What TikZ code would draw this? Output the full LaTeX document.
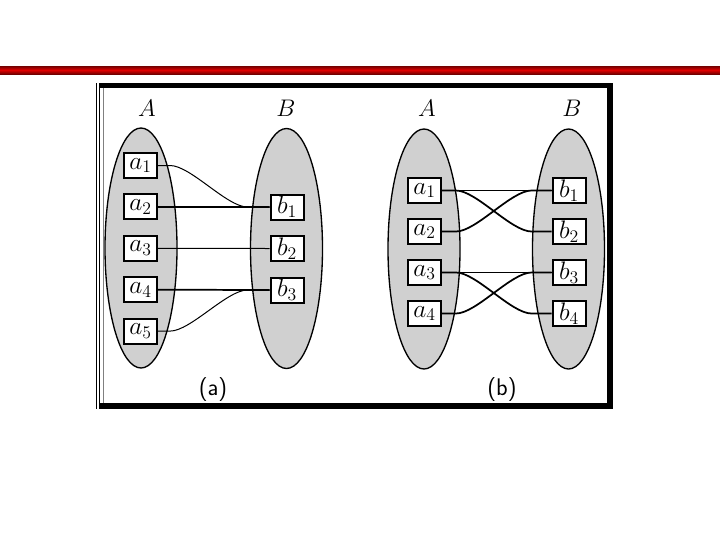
\RequirePackage{fix-cm}
\documentclass[tikz,border=0pt]{standalone}
\usetikzlibrary{shapes.geometric,calc}

\tikzset{every picture/.style={line width=0.75pt}}
\tikzset{
  setell/.style={ellipse, draw, line width=1pt, fill=setgray, minimum width=54pt, minimum height=180pt, inner sep=0pt},
  elem/.style={draw, line width=1.5pt, fill=white, minimum width=24.75pt, minimum height=18.75pt, inner sep=0pt, font=\fontsize{19}{22}\selectfont},
  setname/.style={inner sep=0.75pt, font=\fontsize{18}{21}\selectfont},
  caption/.style={inner sep=0.75pt, font=\fontsize{18}{21}\selectfont\sffamily},
  link/.style={line width=0.75pt},
  boldlink/.style={line width=1.3pt},
  swing/.style={out=0, in=180, looseness=0.6}
}
\definecolor{setgray}{RGB}{208,208,208}

\begin{document}
\begin{tikzpicture}[x=0.75pt,y=0.75pt,yscale=-1,xscale=1]
\useasboundingbox (0,0) rectangle (720,540);

%Shape: Bar
\shade[top color=red!45!black, bottom color=red!45!black, middle color=red!88!black] (0,66) rectangle (720,74);

%Shape: Frame
\draw[line width=4.1pt] (100,85.5) -- (610,85.5) -- (610,406) -- (100,406);
\draw[line width=1pt] (96.5,83) -- (96.5,409);
\draw[line width=1pt] (99.5,83) -- (99.5,409);
\draw[line width=0.4pt, gray] (103,88) -- (103,403);

%Sets (a)
\node[setell] (ellA) at (141,248) {};
\node[setell] (ellB) at (286.5,248.5) {};
\node[setname] (nameA) at (147,108) {$A$};
\node[setname] (nameB) at (286,108) {$B$};

\foreach \i in {1,...,5}
  \node[elem] (a\i) at (140.5,{165.5+41.4*(\i-1)}) {$a_{\i}$};
\foreach \i in {1,...,3}
  \node[elem] (b\i) at (287,{207+41.5*(\i-1)}) {$b_{\i}$};

% Links (a)
\draw[link] (a1.east) -- ++(12,0) to[swing] ($(b1.west)+(-22,0)$) -- (b1.west);
\draw[boldlink] (a2.east) -- (b1.west);
\draw[link] (a3.east) -- (b2.west);
\draw[boldlink] (a4.east) -- (b3.west);
\draw[link] (a5.east) -- ++(12,0) to[swing] ($(b3.west)+(-22,0)$) -- (b3.west);

% Text Node
\node[caption] (capa) at (213,390) {(a)};

%Sets (b)
\node[setell] (ellC) at (424,249) {};
\node[setell] (ellD) at (568.5,249) {};
\node[setname] (nameC) at (427,108) {$A$};
\node[setname] (nameD) at (572,108) {$B$};

\foreach \i in {1,...,4}{
  \node[elem] (c\i) at (424.5,{190.5+41*(\i-1)}) {$a_{\i}$};
  \node[elem] (d\i) at (569,{190.5+41*(\i-1)}) {$b_{\i}$};
}

% Links (b)
\draw[link] (c1.east) -- (d1.west);
\draw[boldlink] (c1.east) -- ++(14,0) to[swing] ($(d2.west)+(-20,0)$) -- (d2.west);
\draw[boldlink] (c2.east) -- ++(14,0) to[swing] ($(d1.west)+(-20,0)$) -- (d1.west);
\draw[link] (c3.east) -- (d3.west);
\draw[boldlink] (c3.east) -- ++(14,0) to[swing] ($(d4.west)+(-20,0)$) -- (d4.west);
\draw[boldlink] (c4.east) -- ++(14,0) to[swing] ($(d3.west)+(-20,0)$) -- (d3.west);

% Text Node
\node[caption] (capb) at (502,390) {(b)};
\end{tikzpicture}
\end{document}
